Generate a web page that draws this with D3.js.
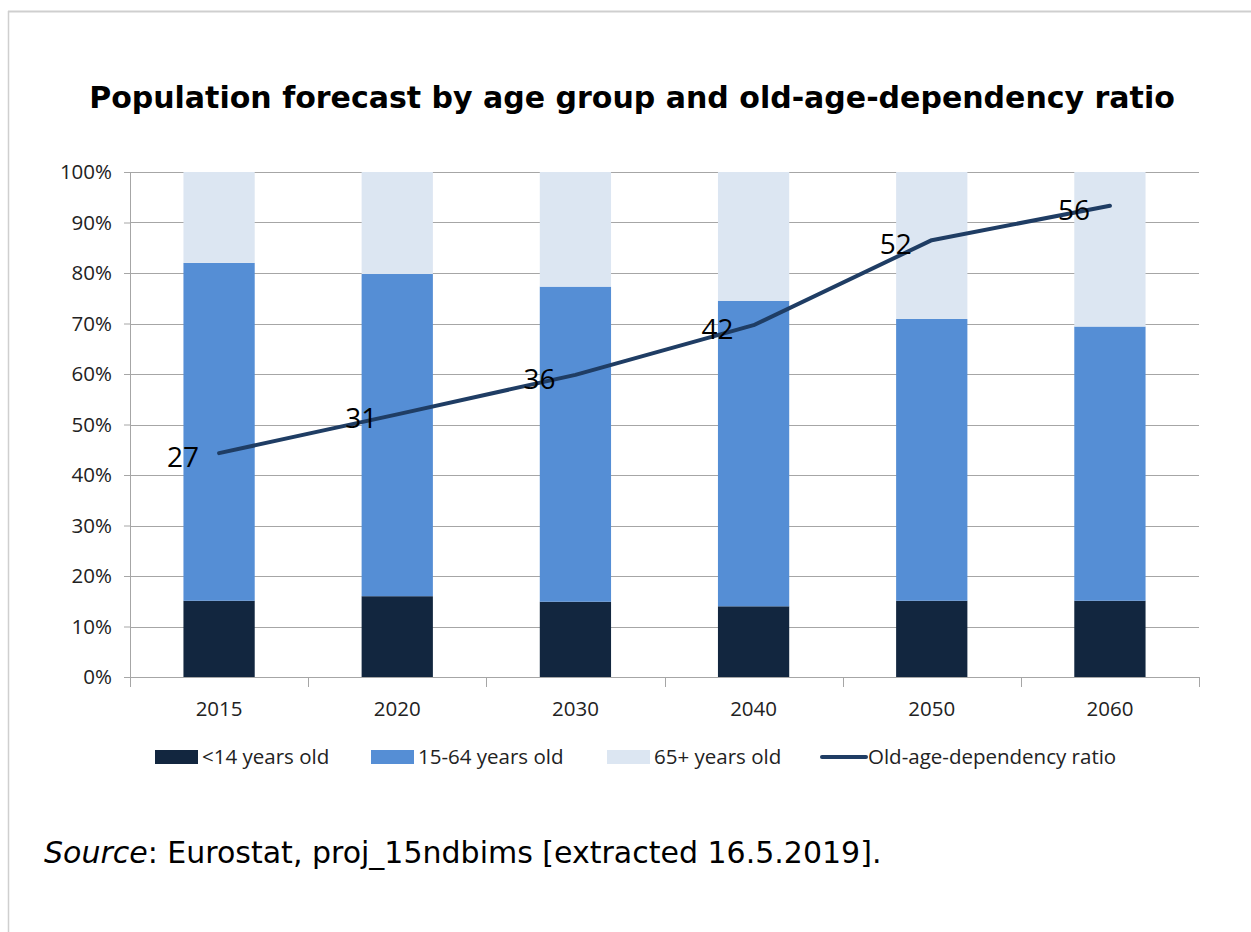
<!DOCTYPE html>
<html>
<head>
<meta charset="utf-8">
<script src="https://cdn.jsdelivr.net/npm/d3@7"></script>
<style>
  html, body { margin: 0; padding: 0; background: #fff; }
  svg { display: block; }
</style>
</head>
<body>
<div id="chart"></div>
<script>
const years = ['2015', '2020', '2030', '2040', '2050', '2060'];
const under14 = [15.1, 16.0, 14.9, 14.0, 15.1, 15.1];
const age15to64 = [66.9, 63.8, 62.4, 60.5, 55.8, 54.3];
const age65plus = [18.0, 20.2, 22.7, 25.5, 29.1, 30.6];
const dependency = [26.6, 31.2, 35.9, 41.8, 51.9, 56.0];
const yTicks = [0, 10, 20, 30, 40, 50, 60, 70, 80, 90, 100];

const seriesNames = ['<14 years old', '15-64 years old', '65+ years old'];
const seriesColors = ['#12263f', '#558ed5', '#dce6f2'];
const lineName = 'Old-age-dependency ratio';
const lineColor = '#1f3d64';

const W = 1251, H = 932;
const m = {t: 172, r: 52, b: 255, l: 130};
const iw = W - m.l - m.r, ih = H - m.t - m.b;
const smallFont = '20.5px';

const svg = d3.select('#chart').append('svg')
  .attr('width', W).attr('height', H);

// frame lines (top and left)
svg.append('line').attr('x1', 8).attr('x2', W).attr('y1', 11.5).attr('y2', 11.5)
  .attr('stroke', '#cfcfcf').attr('stroke-width', 2);
svg.append('line').attr('x1', 8.5).attr('x2', 8.5).attr('y1', 11).attr('y2', H)
  .attr('stroke', '#cfcfcf').attr('stroke-width', 1.5);

svg.append('text')
  .attr('x', 632).attr('y', 108)
  .attr('text-anchor', 'middle')
  .style('font-family', 'DejaVu Sans')
  .style('font-weight', 'bold')
  .style('font-size', '30px')
  .text('Population forecast by age group and old-age-dependency ratio');

const g = svg.append('g').attr('transform', `translate(${m.l},${m.t})`);

const x = d3.scaleBand().domain(years).range([0, iw]);
const y = d3.scaleLinear().domain([0, 100]).range([ih, 0]);
const y2 = d3.scaleLinear().domain([0, 60]).range([ih, 0]);

// gridlines
g.append('g').selectAll('line').data(yTicks).enter().append('line')
  .attr('x1', 0).attr('x2', iw)
  .attr('y1', d => Math.round(y(d)) + 0.5).attr('y2', d => Math.round(y(d)) + 0.5)
  .attr('stroke', '#a6a6a6').attr('stroke-width', 1);

// stacked bars
const rows = years.map((yr, i) => ({year: yr, s0: under14[i], s1: age15to64[i], s2: age65plus[i]}));
const stack = d3.stack().keys(['s0', 's1', 's2'])(rows);
const barW = x.bandwidth() * 0.4;

g.append('g').selectAll('g').data(stack).enter().append('g')
  .attr('fill', (d, i) => seriesColors[i])
  .selectAll('rect').data(d => d).enter().append('rect')
  .attr('x', d => x(d.data.year) + (x.bandwidth() - barW) / 2)
  .attr('width', barW)
  .attr('y', d => y(d[1]))
  .attr('height', d => y(d[0]) - y(d[1]));

// y axis
const yAxis = g.append('g')
  .call(d3.axisLeft(y).tickValues(yTicks).tickFormat(d => d + '%').tickSize(6).tickPadding(12));
yAxis.select('.domain').attr('stroke', '#a6a6a6');
yAxis.selectAll('.tick line').attr('stroke', '#a6a6a6');
yAxis.selectAll('text')
  .style('font-family', 'Open Sans').style('font-size', smallFont).attr('fill', '#222');

// x axis with ticks between categories
const xAxis = g.append('g').attr('transform', `translate(0,${ih})`);
xAxis.append('line').attr('x1', 0).attr('x2', iw).attr('y1', 0.5).attr('y2', 0.5)
  .attr('stroke', '#a6a6a6');
xAxis.selectAll('.sep').data(d3.range(years.length + 1)).enter().append('line')
  .attr('x1', i => Math.round(i * x.step()) + 0.5).attr('x2', i => Math.round(i * x.step()) + 0.5)
  .attr('y1', 0).attr('y2', 10).attr('stroke', '#a6a6a6');
xAxis.selectAll('.lbl').data(years).enter().append('text')
  .attr('x', d => x(d) + x.bandwidth() / 2).attr('y', 39)
  .attr('text-anchor', 'middle')
  .style('font-family', 'Open Sans').style('font-size', smallFont).attr('fill', '#222')
  .text(d => d);

// dependency ratio line
const cx = (d, i) => x(years[i]) + x.bandwidth() / 2;
g.append('path').datum(dependency)
  .attr('fill', 'none').attr('stroke', lineColor).attr('stroke-width', 4)
  .attr('stroke-linejoin', 'round').attr('stroke-linecap', 'round')
  .attr('d', d3.line().x(cx).y(d => y2(d)));

g.append('g').selectAll('text').data(dependency).enter().append('text')
  .attr('x', (d, i) => cx(d, i) - 20)
  .attr('y', d => y2(d) + 14)
  .attr('text-anchor', 'end')
  .style('font-family', 'Open Sans').style('font-size', '28px').attr('fill', '#000')
  .text(d => Math.round(d));

// legend
const legend = svg.append('g').attr('transform', 'translate(0,757)');
const legX = [155, 371, 607];
seriesNames.forEach((name, i) => {
  legend.append('rect').attr('x', legX[i]).attr('y', -7).attr('width', 43).attr('height', 14)
    .attr('fill', seriesColors[i]);
  legend.append('text').attr('x', legX[i] + 47).attr('y', 7)
    .style('font-family', 'Open Sans').style('font-size', smallFont).attr('fill', '#222')
    .text(name);
});
legend.append('line').attr('x1', 822).attr('x2', 866).attr('y1', 0).attr('y2', 0)
  .attr('stroke', lineColor).attr('stroke-width', 4).attr('stroke-linecap', 'round');
legend.append('text').attr('x', 868).attr('y', 7)
  .style('font-family', 'Open Sans').style('font-size', smallFont).attr('fill', '#222')
  .text(lineName);

// source note
const src = svg.append('text').attr('x', 44).attr('y', 863)
  .style('font-family', 'DejaVu Sans').style('font-size', '30px').attr('fill', '#000');
src.append('tspan').style('font-style', 'italic').text('Source');
src.append('tspan').text(': Eurostat, proj_15ndbims [extracted 16.5.2019].');
</script>
</body>
</html>
